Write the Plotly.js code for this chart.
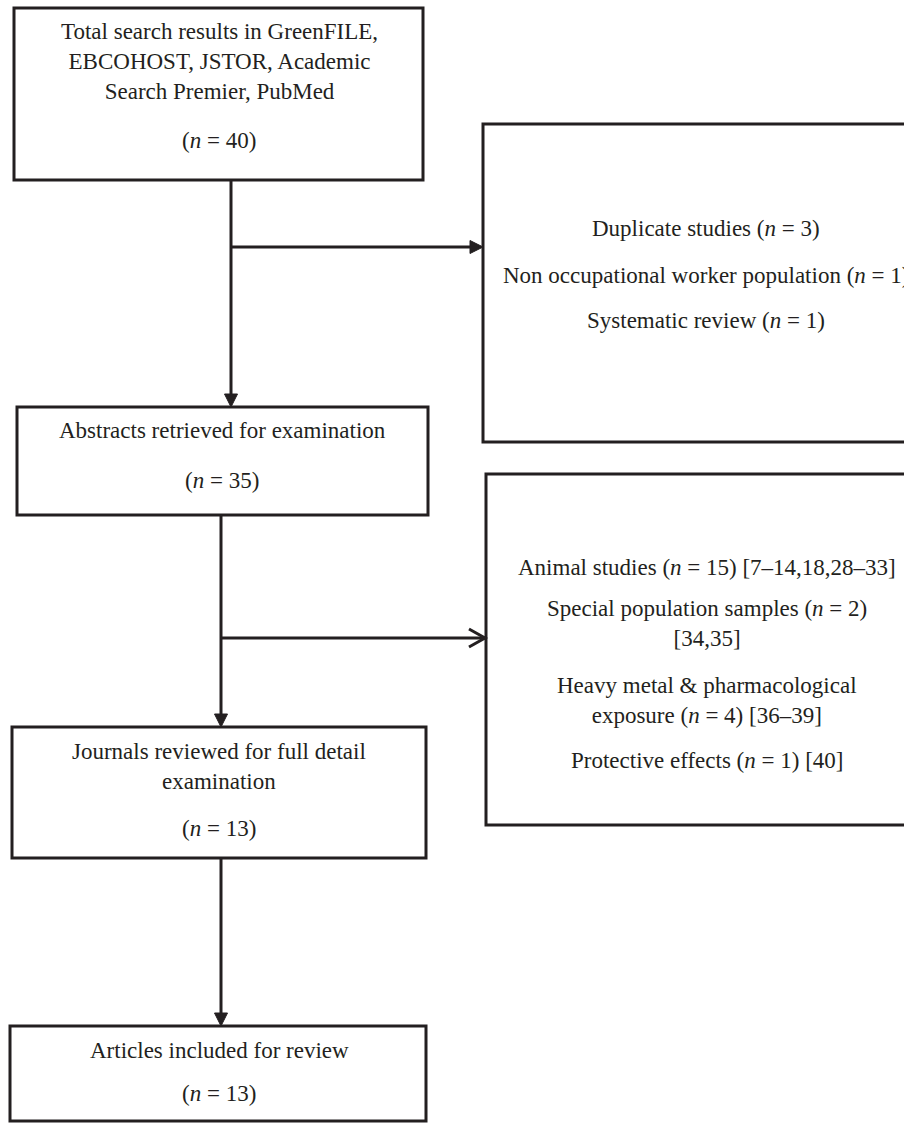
<!DOCTYPE html>
<html>
<head>
<meta charset="utf-8">
<script src="https://cdn.plot.ly/plotly-3.0.1.min.js"></script>
<style>
html,body{margin:0;padding:0;background:#fff;}
#chart{width:904px;height:1127px;}
</style>
</head>
<body>
<div id="chart"></div>
<script>
// ---- data ----
const stageLabels = [
  "Total search results in GreenFILE,<br>EBCOHOST, JSTOR, Academic<br>Search Premier, PubMed",
  "Abstracts retrieved for examination",
  "Journals reviewed for full detail<br>examination",
  "Articles included for review"
];
const stageCounts = [40, 35, 13, 13];

const exclusion1Labels = ["Duplicate studies", "Non occupational worker population", "Systematic review"];
const exclusion1Counts = [3, 1, 1];

const exclusion2Labels = ["Animal studies", "Special population samples", "Heavy metal & pharmacological<br>exposure", "Protective effects"];
const exclusion2Counts = [15, 2, 4, 1];
const exclusion2Refs = ["[7–14,18,28–33]", "[34,35]", "[36–39]", "[40]"];
const exclusion2RefOnNewLine = [false, true, false, false];

// ---- layout geometry (pixel space of the 904x1127 canvas) ----
const W = 904, H = 1127;
const INK = "#231f20";
const FONT = {family: "Liberation Serif, 'Times New Roman', Times, serif", size: 23, color: INK};

const stageBoxes = [
  {x0: 14, x1: 423, y0: 8,    y1: 180,  tx: 219, labelY: 61.5, countY: 140},
  {x0: 17, x1: 428, y0: 407,  y1: 515,  tx: 222, labelY: 430,  countY: 480},
  {x0: 12, x1: 426, y0: 727,  y1: 858,  tx: 219, labelY: 766,  countY: 828},
  {x0: 10, x1: 426, y0: 1026, y1: 1121, tx: 219, labelY: 1050, countY: 1093}
];
const exclBox1 = {x0: 483, x1: 950, y0: 124, y1: 442, tx: 706, itemY: [228, 275, 320]};
const exclBox2 = {x0: 486, x1: 950, y0: 474, y1: 825, tx: 707, itemY: [567, 623, 700, 760]};

const spine = [
  {x: 231, from: 0, to: 1},   // stage 0 -> stage 1
  {x: 221, from: 1, to: 2},
  {x: 221, from: 2, to: 3}
];
const branch1 = {y: 247, x: 231, box: exclBox1, head: "filled"};
const branch2 = {y: 638, x: 221, box: exclBox2, head: "open"};

const shapes = [];
const annotations = [];
const LW = 3;

function rect(b) {
  shapes.push({type: "rect", xref: "x", yref: "y", x0: b.x0, x1: b.x1, y0: b.y0, y1: b.y1,
    line: {color: INK, width: LW}, fillcolor: "rgba(0,0,0,0)"});
}
function line(x0, y0, x1, y1) {
  shapes.push({type: "line", xref: "x", yref: "y", x0: x0, y0: y0, x1: x1, y1: y1,
    line: {color: INK, width: LW}});
}
function path(d, filled) {
  shapes.push({type: "path", xref: "x", yref: "y", path: d,
    line: {color: INK, width: filled ? 1 : LW}, fillcolor: filled ? INK : "rgba(0,0,0,0)"});
}
function text(x, y, t) {
  annotations.push({x: x, y: y, xref: "x", yref: "y", text: t, showarrow: false,
    xanchor: "center", yanchor: "middle", align: "center", font: FONT});
}
const nText = k => "(<i>n</i> = " + k + ")";

// stage boxes
stageBoxes.forEach((b, i) => {
  rect(b);
  text(b.tx, b.labelY, stageLabels[i]);
  text(b.tx, b.countY, nText(stageCounts[i]));
});

// exclusion boxes
rect(exclBox1);
exclusion1Labels.forEach((lab, i) => {
  text(exclBox1.tx, exclBox1.itemY[i], lab + " " + nText(exclusion1Counts[i]));
});
rect(exclBox2);
exclusion2Labels.forEach((lab, i) => {
  const sep = exclusion2RefOnNewLine[i] ? "<br>" : " ";
  text(exclBox2.tx, exclBox2.itemY[i], lab + " " + nText(exclusion2Counts[i]) + sep + exclusion2Refs[i]);
});

// vertical connectors with filled heads
const HL = 13, HW = 6.5;
spine.forEach(s => {
  const yStart = stageBoxes[s.from].y1;
  const yEnd = stageBoxes[s.to].y0;
  line(s.x, yStart, s.x, yEnd - HL + 1);
  path(`M${s.x - HW},${yEnd - HL} L${s.x + HW},${yEnd - HL} L${s.x},${yEnd} Z`, true);
});

// horizontal branches
[branch1, branch2].forEach(br => {
  const xEnd = br.box.x0;
  if (br.head === "filled") {
    line(br.x, br.y, xEnd - HL + 1, br.y);
    path(`M${xEnd - HL},${br.y - HW} L${xEnd - HL},${br.y + HW} L${xEnd},${br.y} Z`, true);
  } else {
    line(br.x, br.y, xEnd - 1, br.y);
    path(`M${xEnd - 17},${br.y - 9} L${xEnd - 1},${br.y} L${xEnd - 17},${br.y + 9}`, false);
  }
});

const layout = {
  width: W, height: H,
  margin: {l: 0, r: 0, t: 0, b: 0, pad: 0},
  paper_bgcolor: "#ffffff", plot_bgcolor: "#ffffff",
  showlegend: false,
  xaxis: {range: [0, W], visible: false, fixedrange: true},
  yaxis: {range: [H, 0], visible: false, fixedrange: true},
  shapes: shapes,
  annotations: annotations
};

Plotly.newPlot("chart", [], layout, {displayModeBar: false, staticPlot: true});
</script>
</body>
</html>
